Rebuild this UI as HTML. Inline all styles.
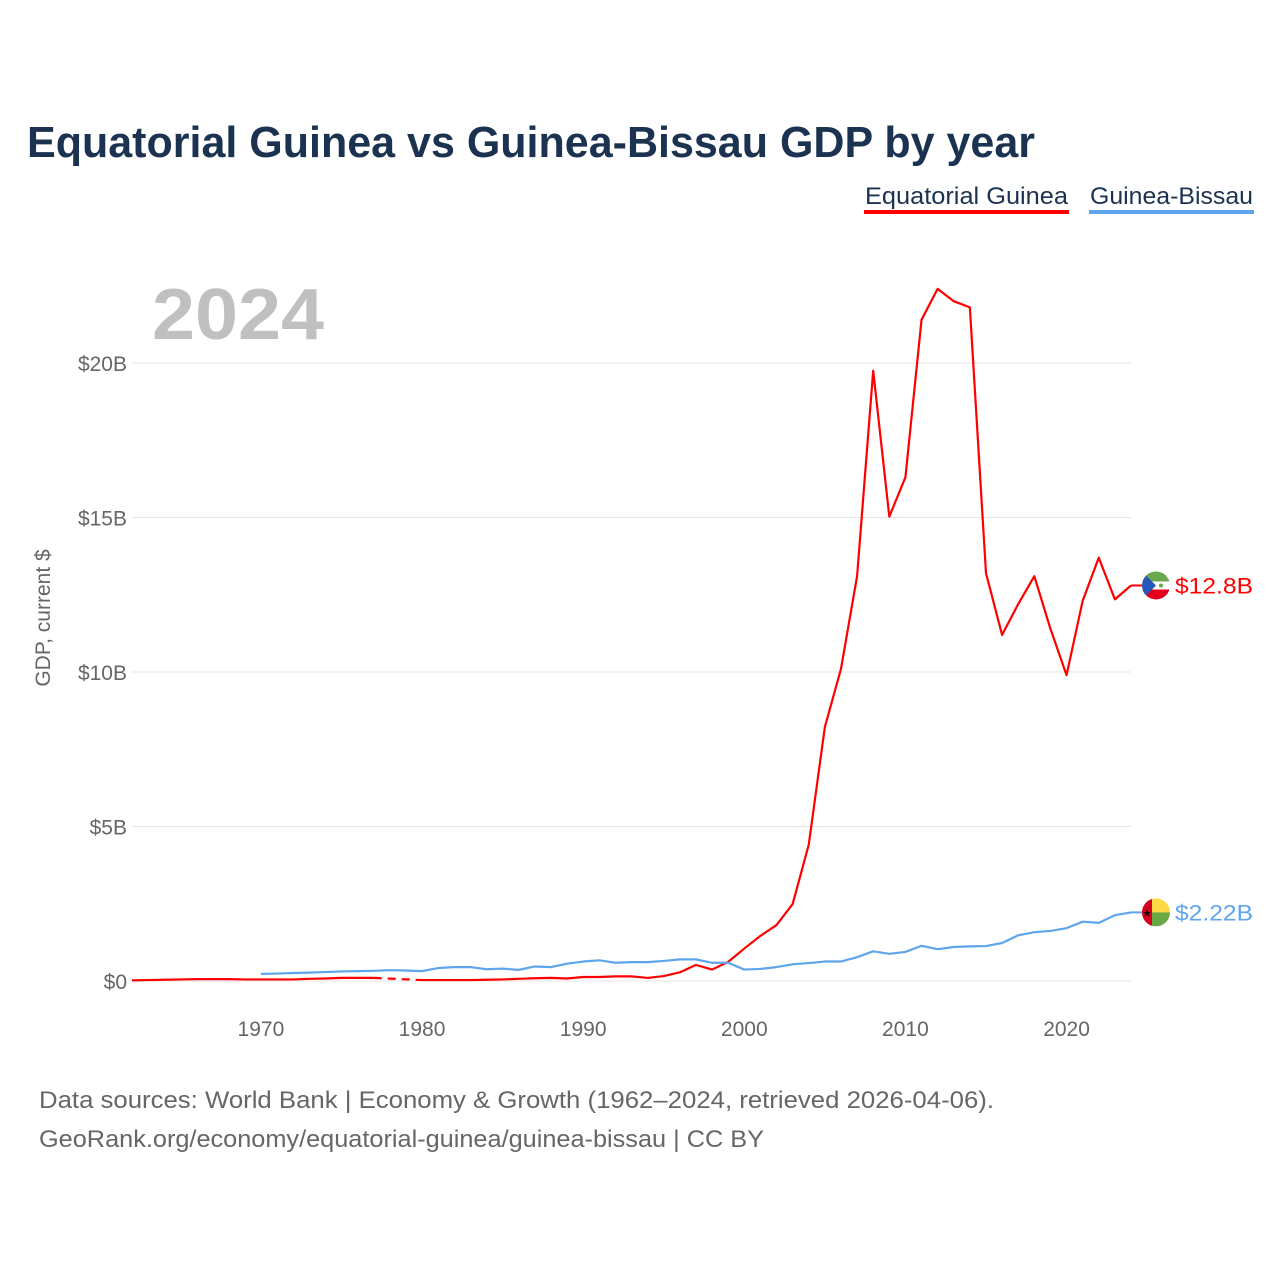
<!DOCTYPE html>
<html><head><meta charset="utf-8"><style>
body{margin:0;background:#fff;}
svg{display:block;font-family:"Liberation Sans",sans-serif;}
</style></head><body>
<svg id="chart" width="1280" height="1280" viewBox="0 0 1280 1280">
<text x="27" y="157" font-size="44" font-weight="bold" fill="#1b3250" textLength="1008" lengthAdjust="spacingAndGlyphs">Equatorial Guinea vs Guinea-Bissau GDP by year</text>
<g>
<text x="865" y="204" font-size="24" fill="#1b3250" textLength="203" lengthAdjust="spacingAndGlyphs">Equatorial Guinea</text>
<rect x="864" y="210" width="205" height="4" fill="#ff0000"/>
</g>
<g>
<text x="1090" y="204" font-size="24" fill="#1b3250" textLength="163" lengthAdjust="spacingAndGlyphs">Guinea-Bissau</text>
<rect x="1089" y="210" width="165" height="4" fill="#5ea5ec"/>
</g>
<text x="152" y="339" font-size="72" font-weight="bold" fill="#c0c0c0" textLength="172" lengthAdjust="spacingAndGlyphs">2024</text>
<g id="grid"></g>
<g id="yticks"></g>
<g id="xticks"></g>
<text transform="translate(50,618) rotate(-90)" text-anchor="middle" font-size="21" fill="#666">GDP, current $</text>
<g id="lines"></g>
<g id="ends"></g>
<text x="39" y="1108" font-size="24" fill="#666" textLength="955" lengthAdjust="spacingAndGlyphs">Data sources: World Bank | Economy &amp; Growth (1962–2024, retrieved 2026-04-06).</text>
<text x="39" y="1147" font-size="24" fill="#666" textLength="725" lengthAdjust="spacingAndGlyphs">GeoRank.org/economy/equatorial-guinea/guinea-bissau | CC BY</text>
</svg>
<script>
const years=[];for(let y=1962;y<=2024;y++)years.push(y);
const eqGuinea=[0.02,0.03,0.04,0.05,0.06,0.06,0.06,0.05,0.05,0.05,0.05,0.07,0.08,0.1,0.1,0.1,null,null,0.03,0.03,0.03,0.03,0.04,0.05,0.07,0.09,0.1,0.08,0.13,0.13,0.15,0.15,0.1,0.16,0.28,0.52,0.37,0.62,1.05,1.46,1.81,2.49,4.41,8.22,10.1,13.1,19.75,15.03,16.3,21.4,22.4,22.0,21.8,13.2,11.2,12.2,13.1,11.4,9.9,12.3,13.7,12.35,12.8];
const guineaBissau=[null,null,null,null,null,null,null,null,0.23,0.24,0.26,0.27,0.29,0.31,0.32,0.33,0.35,0.34,0.32,0.42,0.45,0.45,0.38,0.40,0.36,0.47,0.45,0.56,0.63,0.67,0.59,0.61,0.61,0.65,0.70,0.70,0.59,0.59,0.37,0.39,0.45,0.54,0.58,0.63,0.63,0.77,0.96,0.88,0.94,1.14,1.03,1.10,1.12,1.13,1.23,1.48,1.58,1.62,1.71,1.92,1.88,2.13,2.22];
const yTicks=[0,5,10,15,20];
const yTickLabels=["$0","$5B","$10B","$15B","$20B"];
const xTicks=[1970,1980,1990,2000,2010,2020];
const endLabels=["$12.8B","$2.22B"];
const NS="http://www.w3.org/2000/svg";
const X=y=>132+(y-1962)*(1131-132)/62;
const Y=v=>981-v*30.9;
function mk(tag,attrs,parent,text){const e=document.createElementNS(NS,tag);for(const k in attrs)e.setAttribute(k,attrs[k]);if(text!==undefined)e.textContent=text;parent.appendChild(e);return e;}
const grid=document.getElementById('grid'),yt=document.getElementById('yticks'),xt=document.getElementById('xticks');
yTicks.forEach((v,i)=>{
 const l=mk('line',{x1:132,x2:1131,y1:Y(v),y2:Y(v),stroke:'#e6e6e6','stroke-width':1},grid);
 
 
 const t=mk('text',{x:127,y:Y(v)+8,'text-anchor':'end','font-size':21,fill:'#666'},yt,yTickLabels[i]);
 
 
});
xTicks.forEach(v=>{
 const t=mk('text',{x:X(v),y:1036,'text-anchor':'middle','font-size':21,fill:'#666'},xt,String(v));
 
 
});
const lines=document.getElementById('lines');
function draw(vals,color,name){
 let d='',gap='',last=null,pen=false;
 vals.forEach((v,i)=>{
  if(v==null){pen=false;return;}
  const px=X(years[i]),py=Y(v);
  if(!pen&&last&&i-last.i>1)gap+=`M${X(years[last.i])},${Y(last.v)}L${px},${py}`;
  d+=(pen?'L':'M')+px+','+py;pen=true;last={i,v};
 });
 const p=mk('path',{d,fill:'none',stroke:color,'stroke-width':2.2,'stroke-linejoin':'round'},lines);
 
 
 if(gap){const g=mk('path',{d:gap,fill:'none',stroke:color,'stroke-width':2.2,'stroke-dasharray':'8,6'},lines);
 
 }
}
draw(eqGuinea,'#ff0000','equatorial-guinea');
draw(guineaBissau,'#5ea5ec','guinea-bissau');
const ends=document.getElementById('ends');
const defs=mk('defs',{},ends);
[['eq',eqGuinea],['gb',guineaBissau]].forEach(([id,vals])=>{const c=mk('clipPath',{id:'c'+id},defs);mk('circle',{cx:1156,cy:Y(vals[vals.length-1]),r:14},c);});
let fy=Y(eqGuinea[eqGuinea.length-1]);
mk('line',{x1:X(2024),x2:1142,y1:fy,y2:fy,stroke:'#ff0000','stroke-width':2},ends);
let f=mk('g',{'clip-path':'url(#ceq)'},ends);


mk('rect',{x:1142,y:fy-14,width:28,height:10,fill:'#6aa84f'},f);
mk('rect',{x:1142,y:fy-4,width:28,height:8,fill:'#fff'},f);
mk('rect',{x:1142,y:fy+4,width:28,height:10,fill:'#e3001b'},f);
mk('polygon',{points:`1142,${fy-14} 1156,${fy} 1142,${fy+14}`,fill:'#2558b8'},f);
mk('circle',{cx:1161,cy:fy,r:2,fill:'#6aa84f'},f);
let t1=mk('text',{x:1175,y:fy+8,'font-size':22,fill:'#ff0000',textLength:78,lengthAdjust:'spacingAndGlyphs'},ends,endLabels[0]);


fy=Y(guineaBissau[guineaBissau.length-1]);
mk('line',{x1:X(2024),x2:1142,y1:fy,y2:fy,stroke:'#5ea5ec','stroke-width':2},ends);
f=mk('g',{'clip-path':'url(#cgb)'},ends);


mk('rect',{x:1142,y:fy-14,width:28,height:14,fill:'#fcd947'},f);
mk('rect',{x:1142,y:fy,width:28,height:14,fill:'#6aa843'},f);
mk('rect',{x:1142,y:fy-14,width:10,height:28,fill:'#d5001f'},f);
mk('text',{x:1147,y:fy+4,'font-size':10,'text-anchor':'middle',fill:'#000'},f,'★');
let t2=mk('text',{x:1175,y:fy+8,'font-size':22,fill:'#5ea5ec',textLength:78,lengthAdjust:'spacingAndGlyphs'},ends,endLabels[1]);


</script>
</body></html>
